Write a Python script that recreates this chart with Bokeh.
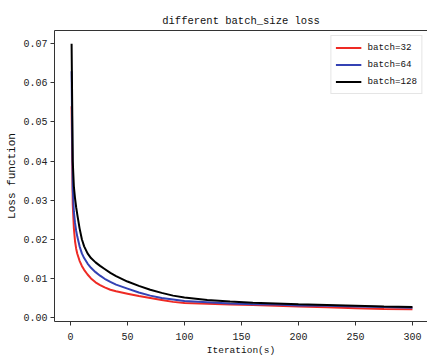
from bokeh.plotting import figure
from bokeh.models import LinearAxis, FixedTicker, Range1d, Legend, LegendItem, NumeralTickFormatter
from bokeh.embed import file_html
from bokeh.resources import INLINE

iterations = [1, 2, 3, 4, 5, 6, 8, 10, 12, 15, 18, 22, 26, 30, 35, 40, 50, 60, 70, 80,
              90, 100, 120, 140, 160, 180, 200, 225, 250, 275, 300]
loss_batch32 = [0.054, 0.029, 0.0228, 0.0195, 0.0176, 0.0163, 0.0145, 0.0132, 0.0122, 0.0110,
                0.0100, 0.0090, 0.0083, 0.0077, 0.0071, 0.0067, 0.0061, 0.0055, 0.0050, 0.0045,
                0.0040, 0.0037, 0.0035, 0.0033, 0.0032, 0.0030, 0.0028, 0.0026, 0.0024, 0.0022, 0.0021]
loss_batch64 = [0.063, 0.033, 0.0270, 0.0242, 0.0222, 0.0207, 0.0182, 0.0164, 0.0152, 0.0138,
                0.0127, 0.0116, 0.0107, 0.0099, 0.0091, 0.0084, 0.0074, 0.0064, 0.0056, 0.0050,
                0.0046, 0.0042, 0.0039, 0.0036, 0.0034, 0.0033, 0.0031, 0.0030, 0.0028, 0.0027, 0.0025]
loss_batch128 = [0.070, 0.040, 0.0335, 0.0305, 0.0282, 0.0263, 0.0228, 0.0200, 0.0182, 0.0164,
                 0.0152, 0.0141, 0.0132, 0.0124, 0.0114, 0.0106, 0.0092, 0.0081, 0.0071, 0.0063,
                 0.0056, 0.0051, 0.0045, 0.0041, 0.0038, 0.0036, 0.0034, 0.0032, 0.0030, 0.0028, 0.0027]
series_labels = ["batch=32", "batch=64", "batch=128"]
series_colors = ["#ee2a24", "#3442b4", "#000000"]
x_ticks = [0, 50, 100, 150, 200, 250, 300]
y_ticks = [0.00, 0.01, 0.02, 0.03, 0.04, 0.05, 0.06, 0.07]

FONT = "Liberation Mono"
AX = "#333333"

p = figure(width=427, height=359, output_backend="svg", toolbar_location=None,
           x_range=Range1d(-14, 313.2), y_range=Range1d(-0.00102, 0.0734),
           x_axis_label="Iteration(s)", y_axis_label="Loss function",
           title="different batch_size loss",
           min_border_left=54, min_border_right=0, min_border_top=30, min_border_bottom=38)
p.outline_line_color = None
p.grid.visible = False
p.background_fill_color = "white"
p.border_fill_color = "white"

p.title.align = "center"
p.title.text_font = FONT
p.title.text_font_size = "10.5px"
p.title.text_font_style = "normal"
p.title.text_color = "#111111"
p.title.standoff = 8
p.title.offset = -4

for ax in (p.xaxis[0], p.yaxis[0]):
    ax.axis_line_color = AX
    ax.major_tick_line_color = AX
    ax.major_tick_out = 4
    ax.major_tick_in = 0
    ax.minor_tick_line_color = None
    ax.major_label_text_font = FONT
    ax.major_label_text_font_size = "10px"
    ax.major_label_text_color = "#222222"
    ax.axis_label_text_font = FONT
    ax.axis_label_text_font_style = "normal"
    ax.axis_label_text_color = "#111111"
    ax.major_label_standoff = 3

p.xaxis[0].ticker = FixedTicker(ticks=x_ticks)
p.yaxis[0].ticker = FixedTicker(ticks=y_ticks)
p.yaxis[0].formatter = NumeralTickFormatter(format="0.00")
p.xaxis[0].major_label_standoff = 7
p.xaxis[0].axis_label_standoff = 2
p.xaxis[0].axis_label_text_font_size = "9.5px"
p.yaxis[0].axis_label_standoff = 2
p.yaxis[0].axis_label_text_font_size = "11px"

top_axis = LinearAxis(ticker=FixedTicker(ticks=[]), axis_line_color=AX,
                      major_tick_line_color=None, minor_tick_line_color=None,
                      major_label_text_font_size="0px")
p.add_layout(top_axis, "above")

items = []
for ys, lab, col in zip([loss_batch32, loss_batch64, loss_batch128], series_labels, series_colors):
    r = p.line(iterations, ys, line_color=col, line_width=2)
    items.append(LegendItem(label=lab, renderers=[r]))

legend = Legend(items=items, location="top_right")
legend.label_text_font = FONT
legend.label_text_font_size = "9.2px"
legend.label_text_color = "#111111"
legend.border_line_color = "#cccccc"
legend.border_line_width = 1
legend.background_fill_alpha = 1
legend.margin = 5
legend.padding = 4
legend.spacing = 2
legend.label_height = 15
legend.glyph_height = 15
legend.glyph_width = 26
legend.label_standoff = 6
p.add_layout(legend)

open("out.html", "w").write(file_html(p, INLINE))
